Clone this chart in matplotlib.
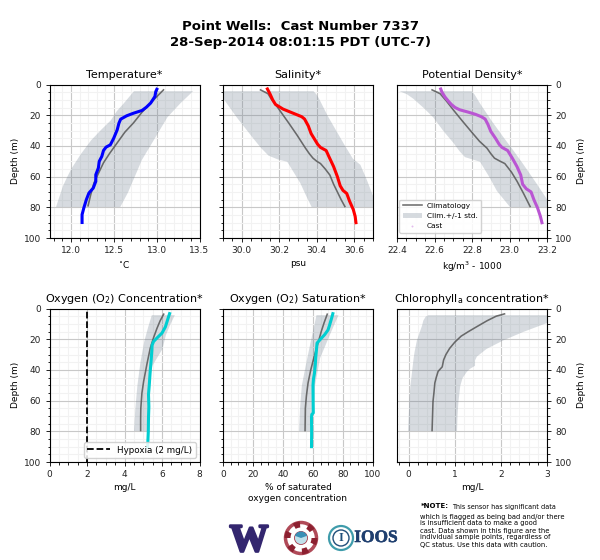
import matplotlib
matplotlib.use("Agg")
import matplotlib.pyplot as plt
import matplotlib.patheffects as pe
import numpy as np
from matplotlib.patches import Circle, Wedge
from matplotlib.ticker import AutoMinorLocator, MultipleLocator, FormatStrFormatter

plt.rcParams['mathtext.default'] = 'regular'
plt.rcParams['font.family'] = 'DejaVu Sans'

# Temperature
t_clim_d = [3.5, 12, 18, 25, 31, 38, 45, 51, 58, 64, 72, 79]
t_clim = [13.08, 12.93, 12.83, 12.73, 12.63, 12.54, 12.45, 12.38, 12.32, 12.27, 12.23, 12.2]
t_lo_d = [4, 8, 12, 17, 23, 29, 36, 45, 54.5, 60, 66, 79.5]
t_lo = [12.73, 12.67, 12.61, 12.53, 12.46, 12.35, 12.23, 12.11, 12.0, 11.95, 11.9, 11.82]
t_hi_d = [4, 12, 21, 36, 49, 57, 70, 79.5]
t_hi = [13.42, 13.27, 13.12, 12.96, 12.82, 12.76, 12.66, 12.57]
t_cast_d = [2.2, 4.6, 7.8, 12.1, 14.8, 16.9, 18.7, 20.4, 22.6, 25.2, 29.5, 34.9, 39.3, 40.8, 43,
            46.9, 50.1, 54.4, 58.8, 63.1, 67.5, 70.7, 75, 80.5, 84.8, 90.9]
t_cast = [13.01, 12.99, 12.98, 12.93, 12.88, 12.83, 12.73, 12.65, 12.58, 12.56, 12.54, 12.50, 12.46, 12.41,
          12.38, 12.36, 12.33, 12.32, 12.29, 12.29, 12.26, 12.21, 12.18, 12.15, 12.13, 12.13]

# Salinity
s_clim_d = [3.5, 6, 10, 13, 19, 25, 33, 41.5, 45, 48, 50, 51.5, 55, 59, 65, 70, 75, 79.5]
s_clim = [30.10, 30.14, 30.16, 30.18, 30.215, 30.25, 30.295, 30.34, 30.36, 30.38, 30.40, 30.42, 30.445, 30.47,
          30.49, 30.51, 30.53, 30.55]
s_lo_d = [4, 9, 15, 21, 28, 35, 41, 46, 48.5, 50, 57, 64, 72, 79.5]
s_lo = [29.84, 29.9, 29.935, 29.97, 30.015, 30.06, 30.10, 30.14, 30.19, 30.24, 30.275, 30.31, 30.34, 30.37]
s_hi_d = [4, 6, 9, 20, 29.5, 39, 48, 52, 62, 73, 79.5]
s_hi = [30.38, 30.395, 30.41, 30.455, 30.5, 30.545, 30.59, 30.63, 30.665, 30.70, 30.73]
s_cast_d = [2, 6, 10, 13, 14.5, 16, 17.5, 19.5, 21, 22.5, 27, 32, 36, 39, 41, 43, 47, 53.5, 60, 66, 69, 71, 76,
            81.5, 86, 91]
s_cast = [30.133, 30.15, 30.165, 30.18, 30.2, 30.22, 30.25, 30.29, 30.32, 30.335, 30.355, 30.37, 30.39, 30.405,
          30.42, 30.45, 30.465, 30.49, 30.51, 30.525, 30.54, 30.56, 30.575, 30.595, 30.605, 30.61]

# Potential density
p_clim_d = [3.5, 6, 11, 16.5, 24, 32, 37, 41.5, 45, 48, 50, 51.5, 57, 63, 71, 79.5]
p_clim = [22.587, 22.63, 22.665, 22.70, 22.75, 22.805, 22.84, 22.88, 22.90, 22.92, 22.95, 22.975, 23.01, 23.04,
          23.075, 23.11]
p_lo_d = [4, 6, 9, 15, 21, 30, 38, 43, 47, 50, 60, 69, 79.5]
p_lo = [22.41, 22.45, 22.485, 22.54, 22.59, 22.645, 22.70, 22.73, 22.76, 22.84, 22.89, 22.93, 23.0]
p_hi_d = [4, 6, 12, 23, 34, 43, 51.5, 63, 75, 79.5]
p_hi = [22.795, 22.81, 22.84, 22.90, 22.965, 23.02, 23.07, 23.135, 23.2, 23.22]
p_cast_d = [2, 5, 8, 11, 13, 15, 16.5, 18, 19.5, 21, 22.5, 26, 30.5, 35, 39, 41, 43, 48, 53.5, 59, 65, 68, 70,
            75, 80.5, 86, 91]
p_cast = [22.63, 22.64, 22.655, 22.675, 22.69, 22.71, 22.735, 22.78, 22.82, 22.85, 22.87, 22.885, 22.90, 22.925,
          22.945, 22.96, 22.99, 23.015, 23.04, 23.06, 23.07, 23.09, 23.115, 23.13, 23.15, 23.165, 23.175]

# Oxygen concentration
o_clim_d = [3.7, 8, 13, 19, 26, 36, 47.5, 55, 65, 72, 79.5]
o_clim = [6.09, 5.9, 5.73, 5.55, 5.37, 5.2, 5.02, 4.93, 4.87, 4.86, 4.86]
o_lo_d = [4, 12, 21.5, 35, 50, 65, 79.5]
o_lo = [5.43, 5.23, 5.02, 4.82, 4.66, 4.55, 4.48]
o_hi_d = [4, 10, 17, 26, 37, 50, 65, 79.5]
o_hi = [6.66, 6.42, 6.18, 6.0, 5.46, 5.28, 5.23, 5.2]
o_cast_d = [2.4, 5, 8.5, 12, 16, 19, 21.5, 24, 27, 34, 41, 50, 56, 64, 71, 80, 91]
o_cast = [6.43, 6.36, 6.27, 6.18, 6.0, 5.75, 5.55, 5.47, 5.46, 5.42, 5.37, 5.32, 5.28, 5.3, 5.28, 5.27, 5.23]
hypoxia = 2

# Oxygen saturation
a_clim_d = [3.7, 9, 15, 22, 30.5, 40, 48.5, 57, 65, 79.5]
a_clim = [69.5, 67.5, 65.5, 63.5, 61, 58.5, 56.7, 55.6, 54.9, 54.7]
a_lo_d = [4, 13, 23, 36, 50, 65, 79.5]
a_lo = [62, 60, 57.8, 55, 52.2, 51, 50.4]
a_hi_d = [4, 11, 19, 32, 50, 65, 79.5]
a_hi = [76.7, 73.5, 70, 64.4, 61, 60, 59.3]
a_cast_d = [2.4, 6, 11, 14, 17, 20, 22.5, 27, 32, 37, 42, 46, 50, 60, 68, 69, 71, 80, 91]
a_cast = [73.5, 72.5, 71, 70, 67.8, 65, 62.7, 62.3, 61.8, 61.5, 61, 60.3, 60, 60.1, 60.2, 59.2, 59, 59.1, 59]

# Chlorophyll
c_clim_d = [3.5, 5, 8, 12, 15, 18, 22, 26, 30, 33.5, 38, 41, 45, 48.5, 55, 60.5, 70, 79.5]
c_clim = [2.08, 1.9, 1.7, 1.47, 1.3, 1.14, 1.0, 0.89, 0.81, 0.76, 0.73, 0.64, 0.6, 0.57, 0.55, 0.53, 0.52, 0.51]
c_lo_d = [4, 5, 7.5, 11, 17, 20.5, 28, 32, 41, 50, 58, 65, 79.5]
c_lo = [0.42, 0.36, 0.31, 0.28, 0.21, 0.17, 0.12, 0.1, 0.065, 0.03, 0.01, 0.0, -0.02]
c_hi_d = [4, 9, 15, 20.5, 26, 31, 33.5, 37, 39, 41, 45, 50, 60.5, 70, 79.5]
c_hi = [3.6, 3.0, 2.47, 2.04, 1.68, 1.47, 1.43, 1.43, 1.32, 1.25, 1.16, 1.11, 1.07, 1.05, 1.04]

titles = ['Temperature*', 'Salinity*', 'Potential Density*',
          'Oxygen (O$_2$) Concentration*', 'Oxygen (O$_2$) Saturation*',
          'Chlorophyll$_a$ concentration*']
xlabels = ['$^{\\circ}$C', 'psu', 'kg/m$^3$ - 1000', 'mg/L',
           '% of saturated\noxygen concentration', 'mg/L']
xlims = [(11.75, 13.5), (29.9, 30.7), (22.4, 23.2), (0, 8), (0, 100), (-0.25, 3)]
xmajor = [0.5, 0.2, 0.2, 2, 20, 1]
xminor = [5, 4, 4, 4, 4, 5]
tick_fmt = ['%.1f', '%.1f', '%.1f', '%d', '%d', '%d']
cast_colors = ['blue', 'red', 'mediumorchid', 'darkturquoise', 'darkturquoise', None]

panels = [
    (t_clim_d, t_clim, t_lo_d, t_lo, t_hi_d, t_hi, t_cast_d, t_cast),
    (s_clim_d, s_clim, s_lo_d, s_lo, s_hi_d, s_hi, s_cast_d, s_cast),
    (p_clim_d, p_clim, p_lo_d, p_lo, p_hi_d, p_hi, p_cast_d, p_cast),
    (o_clim_d, o_clim, o_lo_d, o_lo, o_hi_d, o_hi, o_cast_d, o_cast),
    (a_clim_d, a_clim, a_lo_d, a_lo, a_hi_d, a_hi, a_cast_d, a_cast),
    (c_clim_d, c_clim, c_lo_d, c_lo, c_hi_d, c_hi, None, None),
]

W, H = 600, 560
fig = plt.figure(figsize=(6, 5.6), dpi=100)


def px_axes(x0, y0, x1, y1, **kw):
    return fig.add_axes([x0 / W, 1 - y1 / H, (x1 - x0) / W, (y1 - y0) / H], **kw)


lefts = [49.5, 223, 397]
tops = [84.5, 308.5]

for i, p in enumerate(panels):
    col, row = i % 3, i // 3
    ax = px_axes(lefts[col], tops[row], lefts[col] + 150, tops[row] + 153.5)
    cd, cv, ld, lv, hd, hv, kd, kv = p
    dep = sorted(set(ld) | set(hd))
    ax.plot(cv, cd, color='#555555', alpha=0.85, lw=1.15, label='Climatology', zorder=3)
    ax.fill_betweenx(dep, np.interp(dep, ld, lv), np.interp(dep, hd, hv),
                     color='slategray', alpha=0.28, lw=0, label='Clim.+/-1 std.', zorder=1)
    if kd is not None:
        ax.plot(kv, kd, color=cast_colors[i], lw=2.2, zorder=4, solid_capstyle='butt')
    ax.set_xlim(*xlims[i])
    ax.set_ylim(100, 0)
    ax.xaxis.set_major_locator(MultipleLocator(xmajor[i]))
    ax.xaxis.set_major_formatter(FormatStrFormatter(tick_fmt[i]))
    ax.xaxis.set_minor_locator(AutoMinorLocator(xminor[i]))
    ax.yaxis.set_major_locator(MultipleLocator(20))
    ax.yaxis.set_minor_locator(MultipleLocator(5))
    ax.grid(True, which='major', color='#c8c8c8', lw=0.8, zorder=0)
    ax.grid(True, which='minor', color='#f2f2f2', lw=0.8, zorder=0)
    ax.set_axisbelow(True)
    ax.tick_params(which='major', labelsize=6.5, length=3, width=0.7, pad=3, colors='#222222')
    ax.tick_params(which='minor', length=1.8, width=0.6)
    for s in ax.spines.values():
        s.set_linewidth(0.8)
    ax.set_title(titles[i], fontsize=8, pad=4.5)
    ax.set_xlabel(xlabels[i], fontsize=6.5, labelpad=3, linespacing=1.25)
    if col == 0:
        ax.set_ylabel('Depth (m)', fontsize=6.5, labelpad=2.5)
    elif col == 1:
        ax.tick_params(axis='y', which='both', labelleft=False)
    else:
        ax.yaxis.tick_right()
        ax.yaxis.set_label_position('right')
        ax.set_ylabel('Depth (m)', fontsize=6.5, labelpad=3)
    if i == 2:
        ax.scatter([], [], s=2, color='mediumorchid', alpha=0.4, lw=0, label='Cast')
        ax.legend(loc='lower left', fontsize=5.3, framealpha=0.85, borderpad=0.45,
                  labelspacing=0.55, handlelength=2.6, handletextpad=0.7, edgecolor='#cccccc',
                  bbox_to_anchor=(0.0, 0.02), borderaxespad=0.3)
    if i == 3:
        ax.axvline(hypoxia, color='black', ls='--', lw=1.3, zorder=2, label='Hypoxia (2 mg/L)')
        h, l = ax.get_legend_handles_labels()
        ax.legend([h[-1]], [l[-1]], loc='lower right', fontsize=6.3, framealpha=0.85,
                  edgecolor='#cccccc', borderpad=0.4, handlelength=2.6,
                  bbox_to_anchor=(0.98, 0.02), borderaxespad=0.1)

fig.text(0.5, 1 - 34.5 / H, 'Point Wells:  Cast Number 7337\n28-Sep-2014 08:01:15 PDT (UTC-7)',
         ha='center', va='center', fontsize=9.5, fontweight='bold', linespacing=1.25)

# logos drawn on an overlay in pixel coordinates
ov = fig.add_axes([0, 0, 1, 1], zorder=10)
ov.set_xlim(0, W)
ov.set_ylim(H, 0)
ov.axis('off')
ov.patch.set_alpha(0)

ov.text(249, 551, 'W', family='Liberation Serif', fontweight='bold', fontsize=28,
        color='#33266f', ha='center', va='baseline',
        path_effects=[pe.withStroke(linewidth=1.8, foreground='#33266f')])
ov.add_patch(Circle((301, 538), 15.5, fc='white', ec='#b04a58', lw=2.5))
for a in range(0, 360, 60):
    ov.add_patch(Wedge((301, 538), 16.5, a, a + 26, width=6, fc='#8c2030', ec='none'))
ov.add_patch(Circle((301, 538), 6.5, fc='#bfe0ea', ec='#a83a4a', lw=0.6))
ov.add_patch(Wedge((301, 538), 6.5, 200, 340, fc='#3a8fb5', ec='none'))
ov.add_patch(Circle((341, 538), 12, fc='white', ec='#3f9cab', lw=1.6))
ov.add_patch(Circle((341, 538), 8, fc='white', ec='#1f4e79', lw=1.0))
ov.text(341, 538, 'I', family='Liberation Serif', fontweight='bold', fontsize=9,
        color='#1f4e79', ha='center', va='center')
ov.text(376, 538, 'IOOS', family='Liberation Serif', fontweight='bold', fontsize=12.5,
        color='#1f3f6f', ha='center', va='center',
        path_effects=[pe.withStroke(linewidth=0.4, foreground='#1f3f6f')])

ov.text(421, 506.5, '*NOTE:', fontsize=5, fontweight='bold', va='center')
ov.text(452, 506.5, 'This sensor has significant data', fontsize=4.7, va='center')
note_lines = ['which is flagged as being bad and/or there',
              'is insufficient data to make a good',
              'cast. Data shown in this figure are the',
              'individual sample points, regardless of',
              'QC status. Use this data with caution.']
note_y = [516.7, 523, 530.7, 536.7, 544.5]
for s, y in zip(note_lines, note_y):
    ov.text(420, y, s, fontsize=4.9, va='center')

fig.savefig('out.png', dpi=100)
